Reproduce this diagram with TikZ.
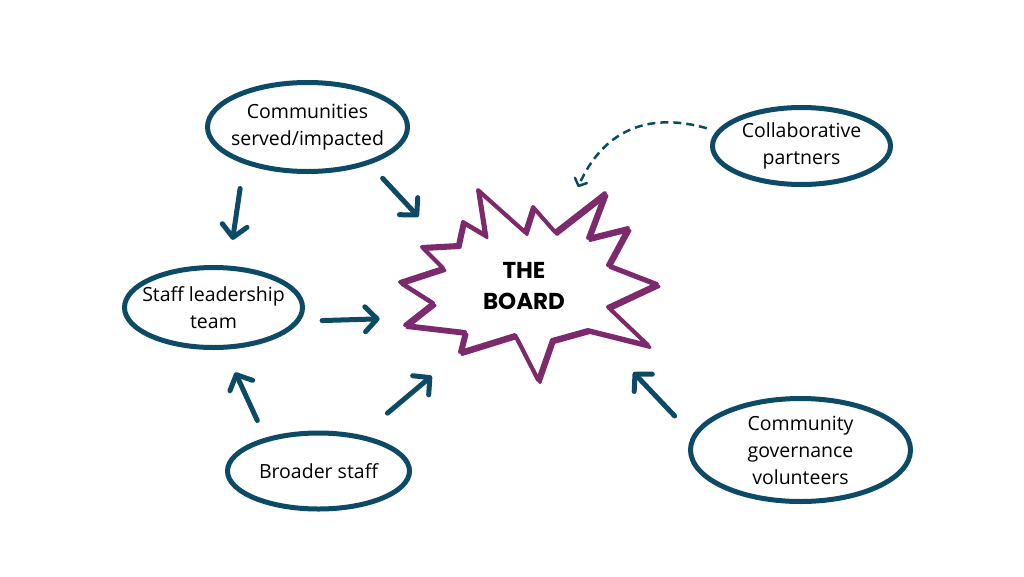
\documentclass[tikz,border=0pt]{standalone}
\usepackage{fontspec}
\setmainfont{Open Sans}
\newfontfamily\boardfont{Poppins}
\usepackage{tikz}
\usetikzlibrary{shapes,arrows.meta,positioning,calc}
\definecolor{nodeblue}{RGB}{12,74,101}
\definecolor{boardpurple}{RGB}{125,42,108}

\tikzset{
  bubble/.style={ellipse, draw=nodeblue, line width=5pt, fill=white, align=center,
    inner xsep=-10pt, inner ysep=-2pt, font=\fontsize{19.5}{27}\selectfont},
  flow/.style={draw=nodeblue, line width=5pt, line cap=round,
    -{Straight Barb[length=12pt,width=25pt,round]}},
  hint/.style={draw=nodeblue, line width=2.5pt, dash pattern=on 8pt off 5pt,
    -{Straight Barb[length=6pt,width=13pt,round]}}
}
\newcommand\burstpath{(400,282) -- (443,268) -- (422,247) -- (458,245) -- (463,222)
  -- (485,235) -- (478,190) -- (525,232) -- (533,207) -- (555,232) -- (605,193)
  -- (588,238) -- (628,228) -- (608,265) -- (657,284) -- (608,307) -- (648,345)
  -- (588,330) -- (552,340) -- (538,380) -- (515,335) -- (460,352) -- (465,332)
  -- (405,325) -- (433,303) -- cycle}

\begin{document}
\begin{tikzpicture}[x=1pt,y=-1pt]
    \useasboundingbox (0,0) rectangle (1024,576);

    % the board
    \draw[boardpurple, line width=4pt, line join=round] \burstpath;
    \draw[boardpurple, line width=3pt, line join=round, shift={(2,2.5)}] \burstpath;
    \node[ellipse, minimum width=190, minimum height=140, inner sep=0pt, align=center,
          font=\boardfont\bfseries\fontsize{23}{31}\selectfont] (board) at (524,286) {THE\\BOARD};

    \node[bubble, minimum width=200, minimum height=89] (comm) at (307.5,127) {Communities\\served/impacted};
    \node[bubble, minimum width=178, minimum height=77] (partners) at (801.5,146) {Collaborative\\partners};
    \node[bubble, minimum width=178, minimum height=80] (lead) at (213.5,307.5) {Staff leadership\\team};
    \node[bubble, minimum width=182, minimum height=76] (staff) at (318.5,471) {Broader staff};
    \node[bubble, minimum width=220, minimum height=103] (volunteers) at (800.5,450) {Community\\governance\\volunteers};

    \draw[flow, shorten <=25pt, shorten >=26pt] (comm.210) -- (lead.70);
    \draw[flow, shorten <=19pt, shorten >=40pt] (comm.329) -- (board.153);
    \draw[flow, shorten <=22pt, shorten >=59pt] (lead.351) -- (board.200);
    \draw[flow, shorten <=19pt, shorten >=25pt] (staff.148) -- (lead.285);
    \draw[flow, shorten <=34pt, shorten >=50pt] (staff.40) -- (board.227);
    \draw[flow, shorten <=26pt, shorten >=55pt] (volunteers.172) -- (board.327);
    \draw[hint, shorten <=10pt, shorten >=38pt] (partners.170) .. controls +(-70,-20) and +(40,-90) .. (board.59);
\end{tikzpicture}
\end{document}
